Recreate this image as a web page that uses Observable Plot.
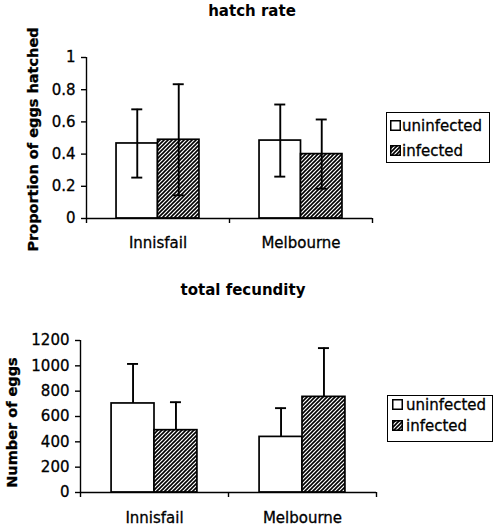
<!DOCTYPE html>
<html><head><meta charset="utf-8">
<script src="https://cdn.jsdelivr.net/npm/d3@7"></script>
<script src="https://cdn.jsdelivr.net/npm/@observablehq/plot@0.6"></script>
<style>
html,body{margin:0;padding:0;background:#fff;}
#root{position:relative;width:500px;height:527px;overflow:hidden;font-family:"DejaVu Sans",sans-serif;color:#000;}
.title{position:absolute;left:0;font-weight:bold;font-size:15px;line-height:18px;text-align:center;white-space:nowrap;}
.legend{position:absolute;box-sizing:border-box;border:1px solid #000;background:#fff;}
.row{position:absolute;font-size:15px;line-height:18px;white-space:nowrap;-webkit-text-stroke:0.3px #000;}
.sw{position:absolute;overflow:visible;}
.panel{position:absolute;left:0;}
.panel svg text{stroke:#000;stroke-width:0.3px;}
</style></head><body>
<svg width="0" height="0" style="position:absolute"><defs>
<pattern id="hatch" patternUnits="userSpaceOnUse" width="4" height="4">
<rect width="4" height="4" fill="#fff"/>
<path d="M-1,1 l2,-2 M0,4 l4,-4 M3,5 l2,-2" stroke="#000" stroke-width="1.6"/>
</pattern></defs></svg>
<div id="root"></div>
<script>
const sites = ["Innisfail", "Melbourne"];
const series = ["uninfected", "infected"];

// hatch rate (proportion of eggs hatched), mean and error
const hatchUninfected = [0.466, 0.484];
const hatchUninfectedErr = [0.212, 0.224];
const hatchInfected = [0.489, 0.40];
const hatchInfectedErr = [0.345, 0.215];
const hatchTicks = [0, 0.2, 0.4, 0.6, 0.8, 1];
const hatchTickLabels = ["0", "0.2", "0.4", "0.6", "0.8", "1"];

// total fecundity (number of eggs), mean and error
const fecUninfected = [703, 439];
const fecUninfectedErr = [312, 227];
const fecInfected = [492, 755];
const fecInfectedErr = [221, 385];
const fecTicks = [0, 200, 400, 600, 800, 1000, 1200];
const fecTickLabels = ["0", "200", "400", "600", "800", "1000", "1200"];

const titles = ["hatch rate", "total fecundity"];
const yTitles = ["Proportion of eggs hatched", "Number of eggs"];

function table(unin, uninErr, inf, infErr) {
  const rows = [];
  sites.forEach((site, i) => {
    rows.push({site, series: "uninfected", value: unin[i], err: uninErr[i]});
    rows.push({site, series: "infected", value: inf[i], err: infErr[i]});
  });
  return rows;
}

function panel(cfg) {
  const {data, yDomain, yTicks, yLabels, height, ml, mr, mt, mb, yTitle, titleDx, titleDy, fullErr, catPad} = cfg;
  const width = 500;
  const frameW = width - ml - mr, frameH = height - mt - mb;
  const band = frameW / sites.length;
  const bw = band * 0.29;
  const gap = (band - 2 * bw) / 2;
  const capW = 11;
  const off = s => (s === "uninfected" ? gap + bw / 2 : gap + bw * 1.5) - band / 2;
  const marks = [];
  for (const s of series) {
    const d = data.filter(r => r.series === s);
    marks.push(Plot.barY(d, {
      x: "site", y: "value",
      insetLeft: s === "uninfected" ? gap : gap + bw,
      insetRight: s === "uninfected" ? gap + bw : gap,
      fill: s === "uninfected" ? "white" : "url(#hatch)",
      stroke: "black", strokeWidth: 1.7
    }));
  }
  for (const s of series) {
    const d = data.filter(r => r.series === s);
    marks.push(Plot.ruleX(d, {
      x: "site",
      y1: fullErr ? (r => r.value - r.err) : "value",
      y2: r => r.value + r.err,
      dx: off(s), stroke: "black", strokeWidth: 1.9
    }));
    const capInsets = {insetLeft: band / 2 + off(s) - capW / 2, insetRight: band / 2 - off(s) - capW / 2};
    marks.push(Plot.tickY(d, {x: "site", y: r => r.value + r.err, ...capInsets, stroke: "black", strokeWidth: 1.9}));
    if (fullErr) marks.push(Plot.tickY(d, {x: "site", y: r => r.value - r.err, ...capInsets, stroke: "black", strokeWidth: 1.9}));
  }
  // axis lines and boundary ticks
  marks.push(Plot.ruleY([0], {stroke: "black", strokeWidth: 1.4}));
  marks.push(Plot.ruleX([sites[0]], {dx: -band / 2, stroke: "black", strokeWidth: 1.4}));
  marks.push(Plot.ruleX(sites, {dx: -band / 2, insetTop: frameH, insetBottom: -5, stroke: "black", strokeWidth: 1.4}));
  marks.push(Plot.ruleX([sites[sites.length - 1]], {dx: band / 2, insetTop: frameH, insetBottom: -5, stroke: "black", strokeWidth: 1.4}));
  marks.push(Plot.axisY({
    ticks: yTicks, tickFormat: d => yLabels[yTicks.indexOf(d)],
    tickSize: 5, tickPadding: 6, label: null, fontSize: 15, stroke: "black", strokeWidth: 1.4
  }));
  marks.push(Plot.axisX({tickSize: 0, tickPadding: catPad, label: null, fontSize: 15}));
  marks.push(Plot.text([yTitle], {
    frameAnchor: "left", dx: titleDx, dy: titleDy, rotate: -90,
    textAnchor: "middle", lineAnchor: "middle", fontWeight: "bold", fontSize: 14.5, fill: "black"
  }));
  return Plot.plot({
    width, height,
    marginLeft: ml, marginRight: mr, marginTop: mt, marginBottom: mb,
    x: {domain: sites, padding: 0, axis: null},
    y: {domain: yDomain, axis: null},
    style: {fontFamily: "DejaVu Sans, sans-serif", fontSize: "15px", color: "black", background: "white", overflow: "visible"},
    marks
  });
}

const root = document.getElementById("root");

function addPanel(svg, top) {
  const wrap = document.createElement("div");
  wrap.className = "panel";
  wrap.style.top = top + "px";
  wrap.appendChild(svg);
  root.appendChild(wrap);
}

function addTitle(text, top, center) {
  const t = document.createElement("div");
  t.className = "title";
  t.style.top = top + "px";
  t.style.width = (center * 2) + "px";
  t.textContent = text;
  root.appendChild(t);
}

function addLegend(box, rows) {
  const lg = document.createElement("div");
  lg.className = "legend";
  Object.assign(lg.style, {left: box.x + "px", top: box.y + "px", width: box.w + "px", height: box.h + "px"});
  root.appendChild(lg);
  series.forEach((s, i) => {
    const sw = document.createElementNS("http://www.w3.org/2000/svg", "svg");
    sw.setAttribute("class", "sw");
    sw.setAttribute("width", 11); sw.setAttribute("height", 11);
    sw.style.left = rows.swX + "px";
    sw.style.top = rows.swY[i] + "px";
    const r = document.createElementNS("http://www.w3.org/2000/svg", "rect");
    r.setAttribute("x", 0.75); r.setAttribute("y", 0.75);
    r.setAttribute("width", 9.5); r.setAttribute("height", 9.5);
    r.setAttribute("fill", s === "uninfected" ? "white" : "url(#hatch)");
    r.setAttribute("stroke", "black"); r.setAttribute("stroke-width", 1.5);
    sw.appendChild(r);
    root.appendChild(sw);
    const tx = document.createElement("div");
    tx.className = "row";
    tx.style.left = rows.textX + "px";
    tx.style.top = (rows.swY[i] + 5.5 - 9) + "px";
    tx.textContent = s;
    root.appendChild(tx);
  });
}

addPanel(panel({
  data: table(hatchUninfected, hatchUninfectedErr, hatchInfected, hatchInfectedErr),
  yDomain: [0, 1], yTicks: hatchTicks, yLabels: hatchTickLabels,
  height: 260, ml: 86, mr: 128, mt: 57, mb: 42,
  yTitle: yTitles[0], titleDx: -53, titleDy: 1.5, fullErr: true, catPad: 19
}), 0);

addPanel(panel({
  data: table(fecUninfected, fecUninfectedErr, fecInfected, fecInfectedErr),
  yDomain: [0, 1200], yTicks: fecTicks, yLabels: fecTickLabels,
  height: 267, ml: 80, mr: 124, mt: 80, mb: 35,
  yTitle: yTitles[1], titleDx: -68, titleDy: 6, fullErr: false, catPad: 20
}), 260);

addTitle(titles[0], 2, 252);
addTitle(titles[1], 281, 243);

addLegend({x: 386, y: 112, w: 104, h: 51}, {swX: 390, textX: 402, swY: [120, 145]});
addLegend({x: 387, y: 395, w: 106, h: 47}, {swX: 392, textX: 406, swY: [399, 420]});
</script>
</body></html>
